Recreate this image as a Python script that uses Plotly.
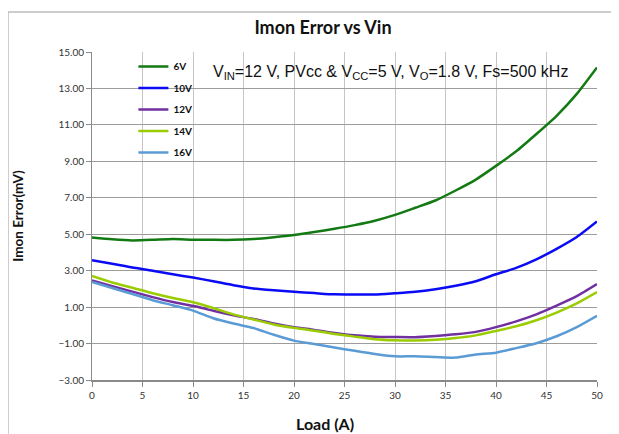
import plotly.graph_objects as go

load = [0, 2, 4, 6, 8, 10, 12, 14, 16, 18, 20, 22, 24, 26, 28, 30, 32, 34, 36, 38, 40, 42, 44, 46, 48, 50]

v6 = [4.82, 4.72, 4.66, 4.69, 4.74, 4.70, 4.69, 4.69, 4.74, 4.84, 4.96, 5.12, 5.30, 5.50, 5.74, 6.06,
      6.45, 6.85, 7.40, 8.00, 8.75, 9.55, 10.50, 11.50, 12.70, 14.15]
v10 = [3.57, 3.38, 3.17, 3.00, 2.80, 2.62, 2.42, 2.20, 2.02, 1.92, 1.84, 1.77, 1.70, 1.69, 1.69, 1.76,
       1.84, 1.98, 2.17, 2.42, 2.80, 3.15, 3.62, 4.20, 4.85, 5.70]
v12 = [2.46, 2.15, 1.85, 1.55, 1.28, 1.07, 0.80, 0.55, 0.35, 0.10, -0.10, -0.25, -0.42, -0.55, -0.62, -0.64,
       -0.65, -0.58, -0.49, -0.36, -0.10, 0.22, 0.60, 1.08, 1.60, 2.26]
v14 = [2.71, 2.35, 2.06, 1.76, 1.50, 1.27, 0.95, 0.60, 0.32, 0.05, -0.14, -0.30, -0.47, -0.62, -0.76, -0.82,
       -0.83, -0.79, -0.70, -0.55, -0.31, -0.05, 0.28, 0.70, 1.20, 1.82]
v16 = [2.38, 2.05, 1.72, 1.38, 1.10, 0.81, 0.39, 0.10, -0.15, -0.52, -0.84, -1.03, -1.22, -1.40, -1.57, -1.70,
       -1.70, -1.74, -1.77, -1.60, -1.50, -1.25, -0.98, -0.60, -0.10, 0.52]

series_names = ["6V", "10V", "12V", "14V", "16V"]
series_values = [v6, v10, v12, v14, v16]
series_colors = ["#137a13", "#0a0af5", "#7030a0", "#9acc00", "#5b9bd5"]

y_ticks = [-3, -1, 1, 3, 5, 7, 9, 11, 13, 15]
x_ticks = [0, 5, 10, 15, 20, 25, 30, 35, 40, 45, 50]

# page body adds an 8px offset; compensate so the screenshot lines up
OFF = 8
W, H = 619 - OFF, 434 - OFF

fig = go.Figure()
for i, (name, vals, col) in enumerate(zip(series_names, series_values, series_colors)):
    fig.add_trace(go.Scatter(
        x=load, y=vals, name=name, mode="lines", legendgroup=f"g{i}",
        line=dict(color=col, width=2.5, shape="spline", smoothing=0.6),
    ))

fig.update_layout(
    width=W, height=H,
    margin=dict(l=92 - OFF, r=22, t=52 - OFF, b=54, autoexpand=False),
    paper_bgcolor="white", plot_bgcolor="white",
    title=dict(text="<b>Imon Error vs Vin</b>", x=(323 - OFF) / W, xanchor="center",
               y=1 - (28 - OFF) / H, yanchor="middle",
               font=dict(family="Lato", size=18, color="#111")),
    showlegend=True,
    legend=dict(x=0.082, y=1.0, xanchor="left", yanchor="top",
                bgcolor="rgba(0,0,0,0)", borderwidth=0,
                traceorder="grouped", tracegroupgap=2.5,
                font=dict(family="Lato", size=10, color="#111", weight="bold")),
    xaxis=dict(range=[0, 50], tickvals=x_ticks, showgrid=True, gridcolor="#c6c6c6", gridwidth=1,
               showline=True, linecolor="#8a8a8a", linewidth=1.5,
               ticks="outside", ticklen=5, tickcolor="#8a8a8a",
               tickfont=dict(family="Lato", size=10, color="#333"),
               zeroline=False, automargin=False),
    yaxis=dict(range=[-3, 15], tickvals=y_ticks, tickformat=".2f", showgrid=True,
               gridcolor="#9c9c9c", gridwidth=1,
               showline=True, linecolor="#8a8a8a", linewidth=1,
               ticks="outside", ticklen=5, tickcolor="#8a8a8a",
               tickfont=dict(family="Lato", size=10, color="#333"),
               zeroline=False, automargin=False,
               title=dict(text="<b>Imon Error(mV)</b>", font=dict(family="Lato", size=13.5, color="#111"),
                          standoff=31)),
)

# x-axis title (sits left of the plot centre in the reference)
fig.add_annotation(xref="paper", yref="paper", x=(325 - 92) / 505, y=(380 - 423) / 328,
                   xanchor="center", yanchor="middle", showarrow=False,
                   text="<b>Load (A)</b>", font=dict(family="Lato", size=16, color="#111"))

# white box behind the condition text
fig.add_shape(type="rect", xref="paper", yref="paper",
              x0=(193 - 92) / 505, x1=(588 - 92) / 505, y0=(380 - 95) / 328, y1=1.02,
              fillcolor="white", line=dict(width=0), layer="between")

fig.add_annotation(xref="paper", yref="paper", x=(390 - 92) / 505, y=(380 - 72) / 328,
                   xanchor="center", yanchor="middle", showarrow=False,
                   text="V<sub>IN</sub>=12 V, PVcc &amp; V<sub>CC</sub>=5 V, V<sub>O</sub>=1.8 V, Fs=500 kHz",
                   font=dict(family="Liberation Sans", size=16, color="#111"))

# chart outer frame
fig.add_shape(type="rect", xref="paper", yref="paper",
              x0=(8 - 92) / 505, x1=1.2, y0=-0.3, y1=1 + (52 - 12) / 328,
              line=dict(color="#bdbdbd", width=1.5), fillcolor="rgba(0,0,0,0)", layer="below")

fig.write_html("out.html")
